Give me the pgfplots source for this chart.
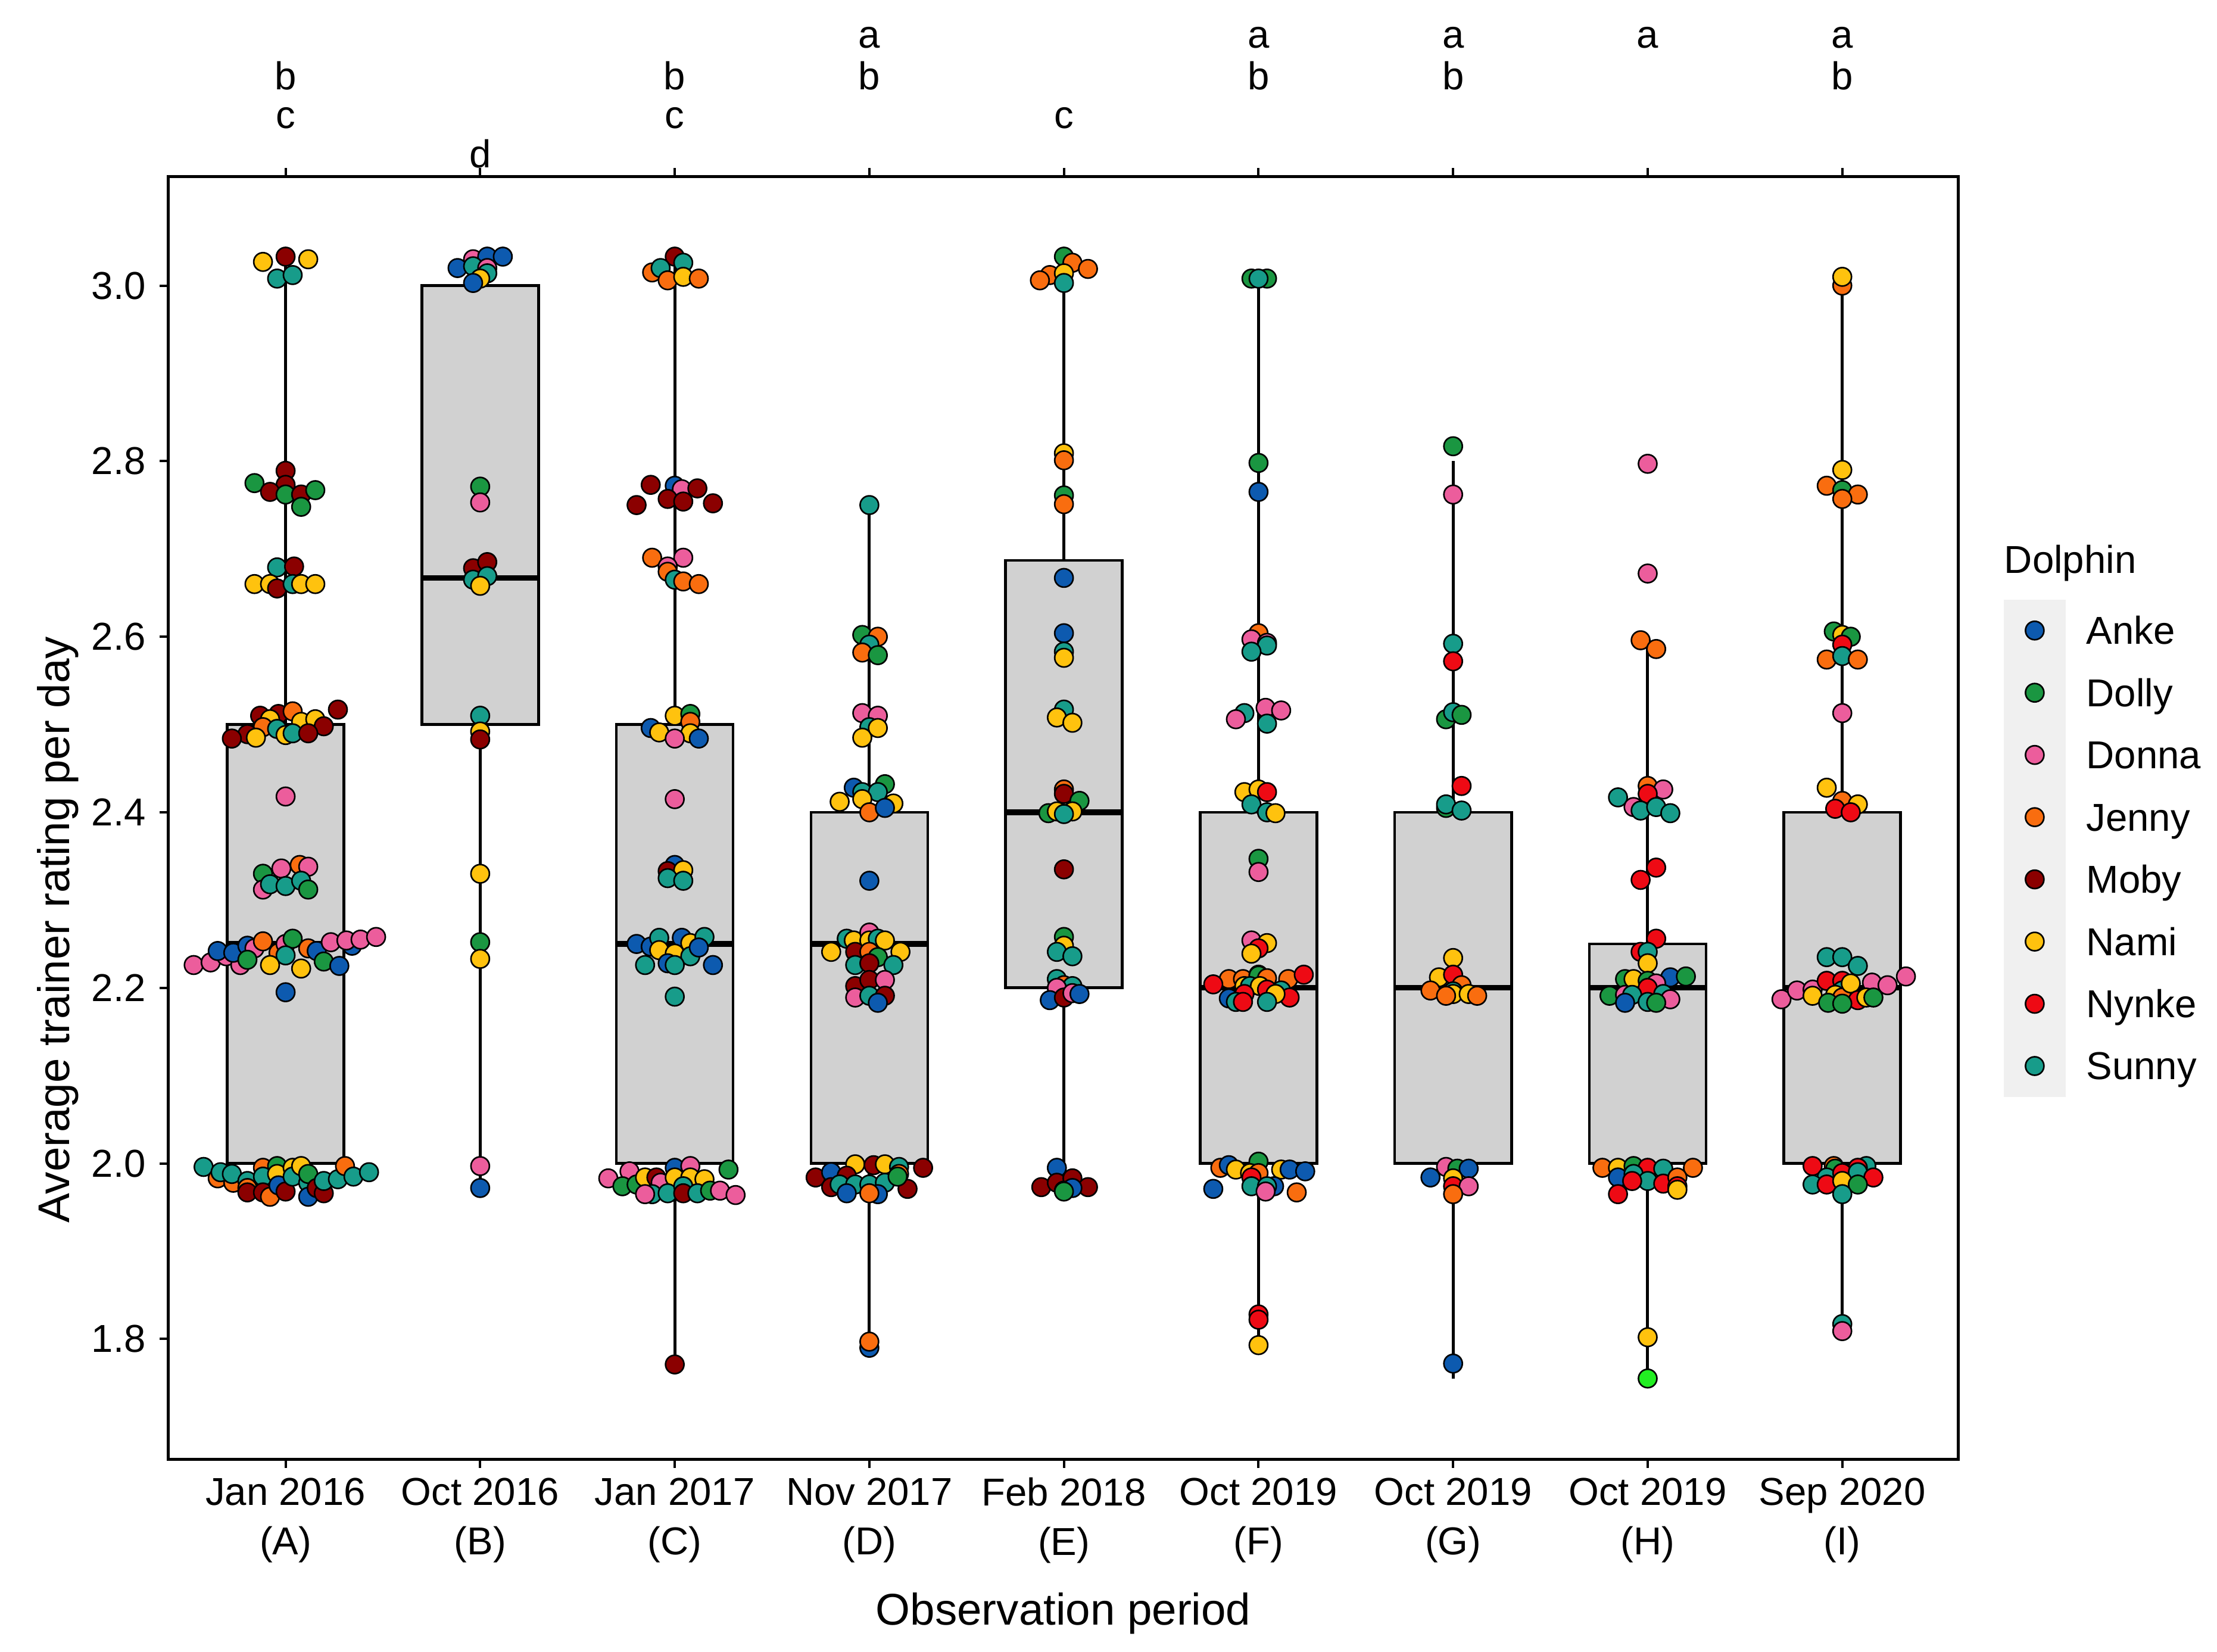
\documentclass[border=0pt]{standalone}
\usepackage{fontspec}
\setmainfont{Liberation Sans}
\usepackage{pgfplots}
\pgfplotsset{compat=1.18}
\usepackage{pgfplotstable}
\usepgfplotslibrary{statistics}

\definecolor{anke}{HTML}{0D5AAF}
\definecolor{dolly}{HTML}{1A9641}
\definecolor{donna}{HTML}{EC5D9C}
\definecolor{jenny}{HTML}{F96D0F}
\definecolor{moby}{HTML}{8B0000}
\definecolor{nami}{HTML}{FFC20E}
\definecolor{nynke}{HTML}{EE0A14}
\definecolor{sunny}{HTML}{179C8A}
\definecolor{limeg}{HTML}{22EE22}
\definecolor{boxgray}{HTML}{D1D1D1}
\definecolor{keybg}{HTML}{F0F0F0}

% dx = horizontal jitter in reference pixels (137.6 px = one category), y = rating
\pgfplotstableread{
dx y c
-16 3.027 Na
0 3.033 Mo
16 3.030 Na
-6 3.008 Su
5 3.012 Su
-22 2.775 Do
0 2.789 Mo
0 2.773 Mo
-11 2.765 Mo
0 2.762 Do
11 2.762 Mo
21 2.767 Do
11 2.748 Do
-6 2.679 Su
6 2.680 Mo
-22 2.660 Na
-11 2.660 Na
-6 2.655 Mo
5 2.660 Su
11 2.660 Na
21 2.660 Na
-18 2.510 Mo
-5 2.512 Mo
5 2.515 Je
-11 2.506 Na
11 2.503 Na
21 2.506 Na
27 2.498 Mo
37 2.517 Mo
-16 2.497 Je
-6 2.495 Su
-27 2.489 Mo
-38 2.484 Mo
-21 2.485 Na
0 2.488 Na
5 2.490 Su
16 2.490 Mo
0 2.418 Dn
-16 2.330 Do
-3 2.336 Dn
10 2.340 Je
16 2.338 Dn
-16 2.312 Dn
-11 2.318 Su
0 2.316 Su
11 2.322 Su
16 2.312 Do
-65 2.226 Dn
-53 2.229 Dn
-42 2.236 Dn
-32 2.226 Dn
-48 2.242 An
-37 2.240 An
-27 2.248 An
-22 2.245 Dn
-16 2.253 Je
-27 2.232 Do
-5 2.240 Je
0 2.250 Dn
5 2.256 Do
16 2.245 Je
22 2.242 An
47 2.248 An
32 2.252 Dn
43 2.254 Dn
53 2.255 Dn
64 2.258 Dn
0 2.237 Su
-11 2.226 Na
11 2.222 Na
27 2.230 Do
38 2.225 An
0 2.195 An
-58 1.996 Su
-48 1.983 Je
-46 1.990 Su
-37 1.978 Je
-38 1.988 Su
-27 1.980 Su
-27 1.972 Je
-27 1.967 Mo
-16 1.995 Je
-16 1.985 Su
-16 1.967 Mo
-6 1.997 Do
-6 1.988 Na
-11 1.962 Je
-5 1.975 An
0 1.968 Mo
5 1.995 Na
5 1.985 Su
11 1.997 Na
16 1.978 Su
16 1.988 Do
16 1.962 An
22 1.972 Mo
27 1.966 Mo
27 1.980 Su
37 1.982 Su
42 1.997 Je
48 1.985 Su
59 1.990 Su
}\dA

\pgfplotstableread{
dx y c
-5 3.030 Dn
5 3.033 An
16 3.033 An
-16 3.020 An
-5 3.022 Su
5 3.020 Dn
5 3.014 Su
0 3.008 Na
-5 3.003 An
0 2.771 Do
0 2.753 Dn
-5 2.678 Mo
5 2.685 Mo
-5 2.665 Su
5 2.669 Su
0 2.658 Na
0 2.510 Su
0 2.492 Na
0 2.483 Mo
0 2.330 Na
0 2.252 Do
0 2.233 Na
0 1.997 Dn
0 1.972 An
}\dB

\pgfplotstableread{
dx y c
0 3.033 Mo
-16 3.015 Je
-10 3.020 Su
6 3.026 Su
-5 3.006 Je
6 3.010 Na
17 3.008 Je
-17 2.773 Mo
-27 2.750 Mo
0 2.772 An
5 2.768 Dn
16 2.769 Mo
-5 2.757 Mo
6 2.754 Mo
27 2.752 Mo
-16 2.690 Je
6 2.690 Dn
-5 2.680 Dn
-5 2.674 Je
0 2.665 Su
6 2.663 Je
17 2.660 Je
0 2.510 Na
11 2.512 Do
11 2.503 Je
-17 2.496 An
-11 2.491 Na
11 2.490 Na
0 2.484 Dn
17 2.484 An
0 2.415 Dn
0 2.340 An
-5 2.333 Mo
6 2.334 Na
-5 2.325 Su
6 2.322 Su
-27 2.250 An
-17 2.247 An
-11 2.257 Su
-11 2.243 Na
5 2.257 An
11 2.251 Na
21 2.258 Su
0 2.239 Na
11 2.236 Su
17 2.246 An
-21 2.226 Su
-5 2.228 An
0 2.226 Su
27 2.226 An
0 2.190 Su
-47 1.983 Dn
-32 1.991 Dn
-37 1.974 Do
-27 1.976 Do
-21 1.984 Na
-13 1.984 Mo
-10 1.978 Dn
0 1.995 An
11 1.997 Dn
0 1.984 Na
11 1.984 Na
21 1.982 Na
-16 1.965 Su
-21 1.965 Dn
-5 1.966 Su
6 1.974 Su
6 1.966 Mo
16 1.966 Su
25 1.969 Do
32 1.969 Dn
43 1.964 Dn
38 1.993 Do
0 1.771 Mo
}\dC

\pgfplotstableread{
dx y c
0 2.750 Su
-5 2.602 Do
6 2.600 Je
0 2.591 Su
-5 2.582 Je
6 2.579 Do
-5 2.513 Dn
6 2.510 Dn
0 2.497 Su
-5 2.485 Na
6 2.496 Na
-11 2.428 An
11 2.432 Do
-5 2.423 Su
6 2.423 Su
-21 2.412 Na
-5 2.415 Na
17 2.410 Na
0 2.400 Je
11 2.405 An
0 2.322 An
-16 2.256 Su
-11 2.254 Na
0 2.263 Dn
0 2.254 Na
6 2.256 Su
11 2.254 Na
-27 2.241 Na
-10 2.241 Mo
0 2.241 Je
22 2.241 Na
6 2.235 Do
-10 2.226 Su
0 2.228 Mo
17 2.226 Su
-10 2.202 Mo
0 2.209 Mo
11 2.209 Dn
-10 2.189 Dn
0 2.191 Su
11 2.191 Mo
6 2.183 An
-38 1.984 Mo
-27 1.990 An
-10 1.999 Na
-16 1.986 Mo
3 1.998 Mo
11 1.999 Na
21 1.996 Su
21 1.988 Je
38 1.995 Mo
-27 1.973 Mo
-21 1.976 Su
-10 1.976 Su
0 1.976 Su
11 1.978 Su
-16 1.966 An
6 1.965 An
0 1.966 Je
27 1.971 Mo
20 1.985 Do
0 1.790 An
0 1.797 Je
}\dD

\pgfplotstableread{
dx y c
0 3.033 Do
6 3.026 Je
17 3.019 Je
-10 3.012 Je
0 3.014 Na
-17 3.006 Je
0 3.003 Su
0 2.809 Na
0 2.801 Je
0 2.761 Do
0 2.751 Je
0 2.667 An
0 2.604 An
0 2.583 Su
0 2.576 Na
0 2.517 Su
-5 2.508 Na
6 2.502 Na
0 2.426 Je
0 2.421 Mo
11 2.413 Do
-11 2.399 Do
-5 2.401 Na
6 2.401 Na
0 2.398 Su
0 2.335 Mo
0 2.258 Do
0 2.248 Na
-5 2.241 Su
6 2.236 Su
-5 2.210 Su
0 2.203 Je
6 2.202 Su
-5 2.200 Dn
-10 2.186 An
0 2.189 Mo
6 2.194 Dn
11 2.193 An
-5 1.995 An
-16 1.973 Mo
-5 1.978 Mo
6 1.983 Mo
17 1.973 Mo
0 1.969 Dn
6 1.972 An
0 1.968 Do
}\dE

\pgfplotstableread{
dx y c
-5 3.008 Do
6 3.008 Do
0 3.008 Su
0 2.798 Do
0 2.765 An
0 2.604 Je
-5 2.597 Dn
6 2.593 Dn
6 2.590 Su
-5 2.583 Su
5 2.519 Dn
16 2.516 Dn
-10 2.513 Su
-16 2.506 Dn
6 2.501 Su
-10 2.423 Na
0 2.426 Na
6 2.423 Ny
-5 2.409 Su
6 2.400 Su
12 2.399 Na
0 2.347 Do
0 2.332 Dn
-5 2.254 Dn
6 2.251 Na
0 2.245 Ny
-5 2.239 Na
-21 2.210 Je
-11 2.210 Je
0 2.215 An
0 2.214 Do
6 2.211 Je
21 2.210 Je
-32 2.204 Ny
32 2.215 Ny
-10 2.202 Na
-6 2.202 Su
1 2.202 Na
6 2.198 Ny
16 2.197 Su
-10 2.193 Ny
22 2.189 Ny
12 2.193 Na
-21 2.188 An
-16 2.184 Su
-11 2.184 Ny
6 2.184 Su
-27 1.995 Je
-21 1.998 An
-16 1.993 Na
0 2.002 Do
16 1.993 Na
22 1.993 An
33 1.991 An
-6 1.989 Na
0 1.989 Je
-5 1.984 Ny
-32 1.971 An
-5 1.974 Su
11 1.974 An
6 1.974 Su
5 1.968 Dn
27 1.967 Je
0 1.828 Ny
0 1.822 Ny
0 1.793 Na
}\dF

\pgfplotstableread{
dx y c
0 2.817 Do
0 2.762 Dn
0 2.592 Su
0 2.572 Ny
-5 2.506 Do
0 2.514 Su
6 2.511 Do
6 2.430 Ny
-5 2.405 Do
-5 2.409 Su
6 2.402 Su
0 2.234 Na
-10 2.212 Na
0 2.215 Ny
-16 2.197 Je
6 2.203 Je
0 2.196 Su
0 2.193 Na
11 2.193 Na
17 2.191 Je
-5 2.191 Je
-5 1.996 Dn
3 1.994 Do
11 1.994 An
-16 1.984 An
0 1.983 Na
0 1.974 Ny
11 1.974 Dn
0 1.965 Je
0 1.772 An
}\dG

\pgfplotstableread{
dx y c
0 2.797 Dn
0 2.672 Dn
-5 2.596 Je
6 2.586 Je
0 2.430 Je
11 2.426 Dn
0 2.421 Ny
-21 2.417 Su
-10 2.406 Dn
-5 2.402 Su
6 2.406 Su
16 2.399 Su
-5 2.323 Ny
6 2.337 Ny
6 2.256 Ny
-5 2.241 Ny
0 2.241 Su
0 2.228 Na
-16 2.210 Do
-10 2.210 Na
0 2.208 Do
16 2.212 An
27 2.213 Do
6 2.205 Dn
0 2.200 Ny
-27 2.191 Do
-16 2.192 Dn
-11 2.192 Su
0 2.184 Su
11 2.193 Su
16 2.187 Dn
-16 2.183 An
6 2.183 Do
-32 1.995 Je
-21 1.995 Na
-10 1.997 Do
0 1.995 Ny
11 1.994 Su
32 1.995 Je
-21 1.984 An
-10 1.988 Su
0 1.980 Su
-11 1.980 Ny
11 1.977 Ny
21 1.984 Je
21 1.974 Ny
-21 1.965 Ny
21 1.970 Na
0 1.802 Na
0 1.755 Li
}\dH

\pgfplotstableread{
dx y c
0 3.000 Je
0 3.010 Na
0 2.790 Na
-11 2.772 Je
0 2.767 Do
11 2.762 Je
0 2.757 Je
-6 2.606 Do
0 2.602 Na
6 2.600 Do
0 2.591 Ny
-11 2.574 Je
0 2.578 Su
11 2.574 Je
0 2.513 Dn
-11 2.428 Na
0 2.413 Je
11 2.409 Na
-5 2.404 Ny
6 2.400 Ny
-11 2.235 Su
0 2.235 Su
11 2.225 Su
-43 2.187 Dn
-32 2.197 Dn
-21 2.198 Dn
21 2.206 Dn
32 2.203 Dn
45 2.213 Dn
-11 2.208 Ny
0 2.208 Ny
0 2.197 Su
-21 2.191 Na
-5 2.192 Na
0 2.189 Je
6 2.205 Na
-10 2.183 Do
11 2.186 Ny
17 2.189 Na
22 2.189 Do
0 2.182 Do
-21 1.997 Ny
-6 1.997 Je
17 1.997 Su
11 1.995 Ny
-5 1.994 Do
-11 1.984 Su
0 1.989 Ny
11 1.990 Su
22 1.984 Ny
-21 1.976 Su
-11 1.976 Ny
0 1.980 Na
11 1.976 Do
0 1.965 Su
0 1.817 Su
0 1.809 Dn
}\dI

\pgfplotstableread{
x y c
0.5 7.5 An
0.5 6.5 Do
0.5 5.5 Dn
0.5 4.5 Je
0.5 3.5 Mo
0.5 2.5 Na
0.5 1.5 Ny
0.5 0.5 Su
}\dLeg

\pgfplotsset{
  dolphins/.style={
    scatter/classes={
      An={mark=*,draw=black,fill=anke},
      Do={mark=*,draw=black,fill=dolly},
      Dn={mark=*,draw=black,fill=donna},
      Je={mark=*,draw=black,fill=jenny},
      Mo={mark=*,draw=black,fill=moby},
      Na={mark=*,draw=black,fill=nami},
      Ny={mark=*,draw=black,fill=nynke},
      Su={mark=*,draw=black,fill=sunny},
      Li={mark=*,draw=black,fill=limeg}
    }
  },
  pts/.style={scatter, only marks, scatter src=explicit symbolic, mark size=2.35pt,
    mark options={line width=0.4pt}},
  bx/.style={boxplot/draw direction=y,
    boxplot prepared={#1, box extend=0.6, whisker extend=0},
    draw=black, line width=0.7pt, solid,
    boxplot/every box/.style={draw=black, fill=boxgray, line width=0.7pt},
    boxplot/every median/.style={draw=black, line width=1.4pt},
    boxplot/every whisker/.style={draw=black, line width=0.75pt}},
}

\begin{document}
\begin{tikzpicture}[font=\fontsize{9.9}{12.6}\selectfont]
\begin{axis}[
  at={(0pt,0pt)}, anchor=south west,
  width=455.76pt, height=326.52pt, scale only axis,
  xmin=-0.603, xmax=8.596, ymin=1.663, ymax=3.124,
  xtick={0,1,2,3,4,5,6,7,8},
  xticklabels={{Jan 2016\\(A)},{Oct 2016\\(B)},{Jan 2017\\(C)},{Nov 2017\\(D)},{Feb 2018\\(E)},{Oct 2019\\(F)},{Oct 2019\\(G)},{Oct 2019\\(H)},{Sep 2020\\(I)}},
  ytick={1.8,2.0,2.2,2.4,2.6,2.8,3.0},
  yticklabels={1.8,2.0,2.2,2.4,2.6,2.8,3.0},
  xticklabel style={align=center, font=\fontsize{9.9}{12.6}\selectfont, yshift=1pt},
  yticklabel style={font=\fontsize{9.9}{12.6}\selectfont},
  tick align=outside, major tick length=2.2pt,
  xtick pos=both, ytick pos=left,
  tick style={black, line width=0.6pt},
  axis line style={black, line width=0.7pt},
  clip=false,
  dolphins,
]
\addplot[bx={lower whisker=1.965, lower quartile=2.0, median=2.25, upper quartile=2.5, upper whisker=3.03, draw position=0}] coordinates {};
\addplot[bx={lower whisker=1.972, lower quartile=2.5, median=2.667, upper quartile=3.0, upper whisker=3.03, draw position=1}] coordinates {};
\addplot[bx={lower whisker=1.771, lower quartile=2.0, median=2.25, upper quartile=2.5, upper whisker=3.03, draw position=2}] coordinates {};
\addplot[bx={lower whisker=1.79, lower quartile=2.0, median=2.25, upper quartile=2.4, upper whisker=2.75, draw position=3}] coordinates {};
\addplot[bx={lower whisker=1.97, lower quartile=2.2, median=2.4, upper quartile=2.687, upper whisker=3.03, draw position=4}] coordinates {};
\addplot[bx={lower whisker=1.793, lower quartile=2.0, median=2.2, upper quartile=2.4, upper whisker=3.008, draw position=5}] coordinates {};
\addplot[bx={lower whisker=1.755, lower quartile=2.0, median=2.2, upper quartile=2.4, upper whisker=2.8, draw position=6}] coordinates {};
\addplot[bx={lower whisker=1.755, lower quartile=2.0, median=2.2, upper quartile=2.25, upper whisker=2.59, draw position=7}] coordinates {};
\addplot[bx={lower whisker=1.81, lower quartile=2.0, median=2.2, upper quartile=2.4, upper whisker=3.0, draw position=8}] coordinates {};

\addplot[pts] table[x expr=\thisrow{dx}/137.6+0, y=y, meta=c] {\dA};
\addplot[pts] table[x expr=\thisrow{dx}/137.6+1, y=y, meta=c] {\dB};
\addplot[pts] table[x expr=\thisrow{dx}/137.6+2, y=y, meta=c] {\dC};
\addplot[pts] table[x expr=\thisrow{dx}/137.6+3, y=y, meta=c] {\dD};
\addplot[pts] table[x expr=\thisrow{dx}/137.6+4, y=y, meta=c] {\dE};
\addplot[pts] table[x expr=\thisrow{dx}/137.6+5, y=y, meta=c] {\dF};
\addplot[pts] table[x expr=\thisrow{dx}/137.6+6, y=y, meta=c] {\dG};
\addplot[pts] table[x expr=\thisrow{dx}/137.6+7, y=y, meta=c] {\dH};
\addplot[pts] table[x expr=\thisrow{dx}/137.6+8, y=y, meta=c] {\dI};

% significance letters
\def\la{3.2706}\def\lb{3.2232}\def\lc{3.1789}\def\ld{3.1346}
\node[anchor=base,inner sep=0pt] at (axis cs:0,\lb) {b};
\node[anchor=base,inner sep=0pt] at (axis cs:0,\lc) {c};
\node[anchor=base,inner sep=0pt] at (axis cs:1,\ld) {d};
\node[anchor=base,inner sep=0pt] at (axis cs:2,\lb) {b};
\node[anchor=base,inner sep=0pt] at (axis cs:2,\lc) {c};
\node[anchor=base,inner sep=0pt] at (axis cs:3,\la) {a};
\node[anchor=base,inner sep=0pt] at (axis cs:3,\lb) {b};
\node[anchor=base,inner sep=0pt] at (axis cs:4,\lc) {c};
\node[anchor=base,inner sep=0pt] at (axis cs:5,\la) {a};
\node[anchor=base,inner sep=0pt] at (axis cs:5,\lb) {b};
\node[anchor=base,inner sep=0pt] at (axis cs:6,\la) {a};
\node[anchor=base,inner sep=0pt] at (axis cs:6,\lb) {b};
\node[anchor=base,inner sep=0pt] at (axis cs:7,\la) {a};
\node[anchor=base,inner sep=0pt] at (axis cs:8,\la) {a};
\node[anchor=base,inner sep=0pt] at (axis cs:8,\lb) {b};
\end{axis}

% legend
\node[anchor=west,inner sep=0pt] at (467.3pt,228.2pt) {Dolphin};
\begin{axis}[
  at={(467.3pt,92.2pt)}, anchor=south west,
  width=15.84pt, height=126.72pt, scale only axis,
  xmin=0, xmax=1, ymin=0, ymax=8,
  hide axis, clip=false, dolphins,
]
\fill[keybg] (axis cs:0,0) rectangle (axis cs:1,8);
\addplot[pts] table[x=x, y=y, meta=c] {\dLeg};
\node[anchor=base west,inner sep=0pt] at (axis cs:1.318,7.28) {Anke};
\node[anchor=base west,inner sep=0pt] at (axis cs:1.318,6.28) {Dolly};
\node[anchor=base west,inner sep=0pt] at (axis cs:1.318,5.28) {Donna};
\node[anchor=base west,inner sep=0pt] at (axis cs:1.318,4.28) {Jenny};
\node[anchor=base west,inner sep=0pt] at (axis cs:1.318,3.28) {Moby};
\node[anchor=base west,inner sep=0pt] at (axis cs:1.318,2.28) {Nami};
\node[anchor=base west,inner sep=0pt] at (axis cs:1.318,1.28) {Nynke};
\node[anchor=base west,inner sep=0pt] at (axis cs:1.318,0.28) {Sunny};
\end{axis}

% axis titles
\node[rotate=90,inner sep=0pt,font=\fontsize{11.3}{13.6}\selectfont] at (-28.1pt,134.8pt) {Average trainer rating per day};
\node[inner sep=0pt,font=\fontsize{11.3}{13.6}\selectfont] at (227.9pt,-39.2pt) {Observation period};

\pgfresetboundingbox
\path (-42.84pt,-48.96pt) rectangle (521.64pt,371.52pt);
\end{tikzpicture}
\end{document}
